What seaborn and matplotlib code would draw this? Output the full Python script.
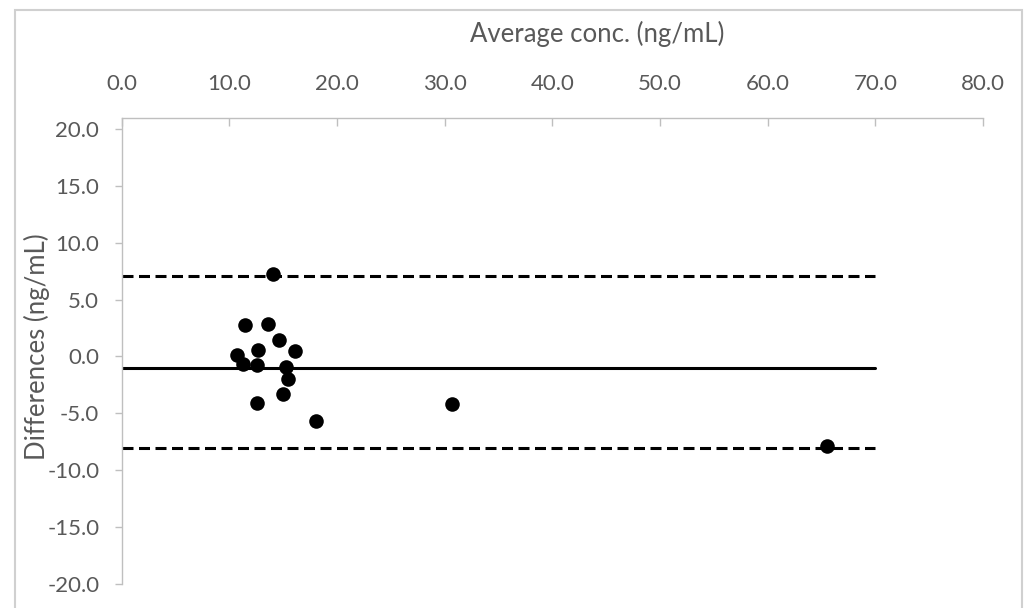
import matplotlib
matplotlib.use("Agg")
import matplotlib.pyplot as plt
import seaborn as sns
import pandas as pd
from matplotlib.patches import Rectangle

# Data
avg_conc = [10.7, 11.5, 13.6, 14.1, 14.6, 12.7, 16.1, 11.3, 12.6, 15.3, 15.5, 15.0, 12.6, 18.1, 30.7, 65.5]
differences = [0.15, 2.74, 2.85, 7.24, 1.47, 0.53, 0.47, -0.71, -0.79, -0.94, -1.97, -3.29, -4.09, -5.65, -4.17, -7.92]
mean_diff = -1.0
upper_loa = 7.05
lower_loa = -8.05
line_x = [0.0, 70.0]
x_ticks = [0, 10, 20, 30, 40, 50, 60, 70, 80]
y_ticks = [-20, -15, -10, -5, 0, 5, 10, 15, 20]

df = pd.DataFrame({"avg": avg_conc, "diff": differences})

sns.set_theme(style="white")
plt.rcParams["font.family"] = ["Lato", "DejaVu Sans"]

fig = plt.figure(figsize=(10.24, 6.08), dpi=100)
ax = fig.add_axes([121.5 / 1024, 1 - 583.5 / 608, (983 - 121.5) / 1024, (583.5 - 118) / 608])

# figure border
fig.patches.append(Rectangle((14.5 / 1024, -0.1), (1022 - 14.5) / 1024, 1 - 10.5 / 608 + 0.1,
                             transform=fig.transFigure, fill=False, edgecolor="#D0D0D0",
                             linewidth=1.5, zorder=0))

ax.plot(line_x, [mean_diff, mean_diff], color="black", linewidth=2.2, zorder=2)
ax.plot(line_x, [upper_loa, upper_loa], color="black", linewidth=2.2,
        linestyle=(0, (3.6, 1.8)), zorder=2)
ax.plot(line_x, [lower_loa, lower_loa], color="black", linewidth=2.2,
        linestyle=(0, (3.6, 1.8)), zorder=2)

sns.scatterplot(data=df, x="avg", y="diff", ax=ax, color="black", s=110,
                edgecolor="black", linewidth=0, zorder=3, legend=False)

ax.set_xlim(0, 80)
ax.set_ylim(-20, 21)
ax.set_xticks(x_ticks)
ax.set_yticks(y_ticks)
ax.set_xticklabels([f"{v:.1f}" for v in x_ticks])
ax.set_yticklabels([f"{v:.1f}" for v in y_ticks])

for side in ["right", "bottom"]:
    ax.spines[side].set_visible(False)
for side in ["top", "left"]:
    ax.spines[side].set_color("#BFBFBF")
    ax.spines[side].set_linewidth(1.0)

ax.xaxis.set_ticks_position("top")
ax.tick_params(axis="x", direction="in", length=6, width=1, color="#BFBFBF",
               labelsize=16, labelcolor="#595959", pad=17)
ax.tick_params(axis="y", direction="out", length=5, width=1, color="#BFBFBF",
               labelsize=16, labelcolor="#595959", pad=11, left=True)
ax.set_xlabel("")
ax.set_ylabel("")

fig.text(597 / 1024, 1 - 34 / 608, "Average conc. (ng/mL)", ha="center", va="center",
         fontsize=18.5, color="#595959")
fig.text(37 / 1024, 1 - 347 / 608, "Differences (ng/mL)", ha="center", va="center",
         rotation=90, fontsize=18.5, color="#595959")

ax.set_facecolor("white")
fig.patch.set_facecolor("white")
fig.savefig("out.png", dpi=100)
